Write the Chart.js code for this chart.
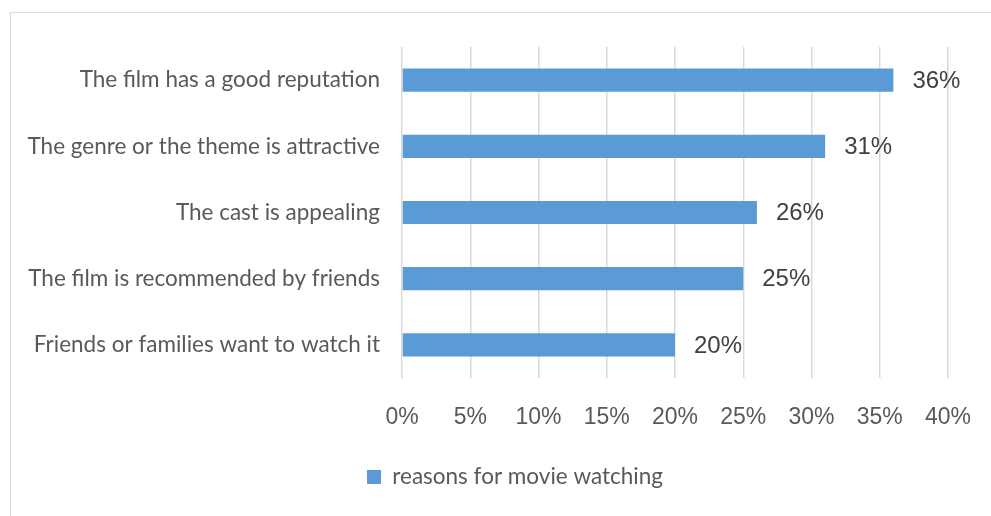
<!DOCTYPE html>
<html>
<head>
<meta charset="utf-8">
<script src="https://cdn.jsdelivr.net/npm/chart.js@4"></script>
<style>
  html, body { margin: 0; padding: 0; background: #fff; overflow: hidden; }
  .frame {
    position: absolute; left: 10px; top: 12px; width: 1200px; height: 800px;
    border: 1px solid #d9d9d9; box-sizing: border-box;
  }
  #chart { position: absolute; left: 0; top: 0; }
</style>
</head>
<body>
<div class="frame"></div>
<canvas id="chart" width="991" height="516"></canvas>
<script>
// Reasons, listed top to bottom
const reasons = [
    'The film has a good reputation',
    'The genre or the theme is attractive',
    'The cast is appealing',
    'The film is recommended by friends',
    'Friends or families want to watch it'
];
const shares = [36, 31, 26, 25, 20];
const tickSteps = [0, 5, 10, 15, 20, 25, 30, 35, 40];

const labelFont = "Lato, 'Noto Sans', sans-serif";
const numberFont = "'Liberation Sans', Arial, sans-serif";

// Percent label to the right of each bar
const valueLabels = {
    id: 'valueLabels',
    afterDatasetsDraw(chart) {
        const ctx = chart.ctx;
        const meta = chart.getDatasetMeta(0);
        ctx.save();
        ctx.font = '24px ' + numberFont;
        ctx.fillStyle = '#404040';
        ctx.textAlign = 'left';
        ctx.textBaseline = 'middle';
        meta.data.forEach((bar, i) => {
            ctx.fillText(shares[i] + '%', bar.x + 19, bar.y + 1);
        });
        ctx.restore();
    }
};

// Legend sits a bit right of the canvas centre, under the plot
const legendShift = {
    id: 'legendShift',
    beforeDraw(chart) {
        chart.legend.left = 82;
    }
};

new Chart(document.getElementById('chart'), {
    type: 'bar',
    data: {
        labels: reasons,
        datasets: [{
            label: 'reasons for movie watching',
            data: shares,
            backgroundColor: '#5b9bd5',
            borderWidth: 0,
            barPercentage: 0.35,
            categoryPercentage: 1
        }]
    },
    options: {
        indexAxis: 'y',
        responsive: false,
        animation: false,
        layout: { padding: { left: 0, right: 43, top: 47, bottom: 17.75 } },
        scales: {
            x: {
                min: tickSteps[0],
                max: tickSteps[tickSteps.length - 1],
                afterBuildTicks(scale) {
                    scale.ticks = tickSteps.map(v => ({ value: v }));
                },
                afterFit(scale) {
                    scale.height = 77.75;
                    scale.paddingLeft = 0;
                    scale.paddingRight = 0;
                },
                grid: { color: '#d9d9d9', lineWidth: 1.5, drawTicks: false },
                border: { display: false },
                ticks: {
                    padding: 26,
                    color: '#595959',
                    font: { family: numberFont, size: 23 },
                    callback: v => v + '%'
                }
            },
            y: {
                afterFit(scale) {
                    scale.width = 402;
                },
                grid: { display: false, drawTicks: false },
                border: { display: false },
                ticks: {
                    padding: 22,
                    color: '#595959',
                    font: { family: labelFont, size: 22.5 }
                }
            }
        },
        plugins: {
            legend: {
                position: 'bottom',
                labels: {
                    boxWidth: 14,
                    boxHeight: 14,
                    padding: 10,
                    color: '#595959',
                    font: { family: labelFont, size: 22.5 }
                }
            },
            tooltip: { enabled: false }
        }
    },
    plugins: [valueLabels, legendShift]
});
</script>
</body>
</html>
